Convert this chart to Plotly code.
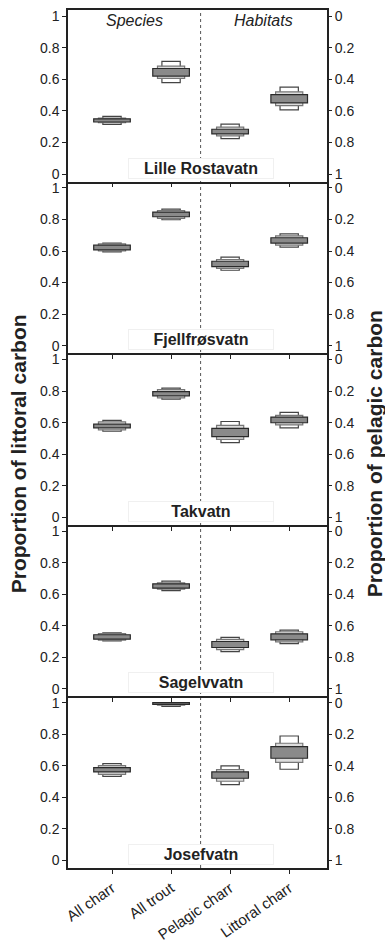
import plotly.graph_objects as go

categories = ["All charr", "All trout", "Pelagic charr", "Littoral charr"]
lakes = ["Lille Rostavatn", "Fjellfrøsvatn", "Takvatn", "Sagelvvatn", "Josefvatn"]

# credibility intervals (proportion of littoral carbon), per lake, per category
lo95 = [[0.315, 0.580, 0.225, 0.407],
        [0.594, 0.798, 0.478, 0.624],
        [0.545, 0.749, 0.473, 0.567],
        [0.304, 0.623, 0.236, 0.287],
        [0.533, 0.976, 0.480, 0.578]]
hi95 = [[0.365, 0.714, 0.316, 0.551],
        [0.650, 0.866, 0.561, 0.709],
        [0.614, 0.819, 0.607, 0.665],
        [0.355, 0.683, 0.326, 0.372],
        [0.614, 1.000, 0.599, 0.789]]
lo75 = [[0.325, 0.606, 0.242, 0.434],
        [0.600, 0.807, 0.490, 0.637],
        [0.554, 0.757, 0.494, 0.586],
        [0.309, 0.632, 0.249, 0.298],
        [0.546, 0.984, 0.502, 0.622]]
hi75 = [[0.355, 0.684, 0.297, 0.521],
        [0.645, 0.856, 0.546, 0.696],
        [0.605, 0.809, 0.582, 0.646],
        [0.350, 0.672, 0.313, 0.362],
        [0.601, 1.000, 0.576, 0.743]]
lo50 = [[0.330, 0.621, 0.254, 0.451],
        [0.607, 0.817, 0.501, 0.650],
        [0.567, 0.770, 0.511, 0.599],
        [0.315, 0.638, 0.262, 0.311],
        [0.561, 0.990, 0.521, 0.648]]
hi50 = [[0.350, 0.669, 0.284, 0.504],
        [0.637, 0.847, 0.535, 0.684],
        [0.590, 0.796, 0.563, 0.635],
        [0.343, 0.666, 0.300, 0.349],
        [0.588, 1.000, 0.561, 0.722]]

left_ticks = [0, 0.2, 0.4, 0.6, 0.8, 1]
left_ticktext = ["0", "0.2", "0.4", "0.6", "0.8", "1"]
group_titles = ["Species", "Habitats"]

FONT = "Liberation Sans, Arial, sans-serif"
INK = "#222"
YR = [-0.048, 1.04]
XR = [-0.745, 3.64]
n = len(lakes)

fig = go.Figure()
layers = [(lo95, hi95, 0.31, "white", "#444"),
          (lo75, hi75, 0.46, "#dcdcdc", "#777"),
          (lo50, hi50, 0.62, "#8a8a8a", "#2a2a2a")]

layout = dict(
    width=385, height=946,
    margin=dict(l=68, r=58, t=10, b=78, autoexpand=False),
    paper_bgcolor="white", plot_bgcolor="white",
    showlegend=False, barmode="overlay",
    font=dict(family=FONT, size=14, color=INK),
    annotations=[], shapes=[],
)
tickfont = dict(size=14, family=FONT, color=INK)

for k in range(n):
    ix = k + 1
    xa = "x" if ix == 1 else f"x{ix}"
    ya = "y" if ix == 1 else f"y{ix}"
    ra = f"y{n + ix}"
    for lo, hi, w, fill, edge in layers:
        fig.add_trace(go.Bar(
            x=categories,
            y=[h - l for l, h in zip(lo[k], hi[k])],
            base=lo[k], width=w,
            marker=dict(color=fill, line=dict(color=edge, width=1.2)),
            xaxis=xa, yaxis=ya, hoverinfo="skip"))
    # invisible trace so the right-hand (pelagic) axis is drawn
    fig.add_trace(go.Scatter(
        x=categories, y=[1 - h for h in hi95[k]], mode="markers",
        marker=dict(opacity=0, size=1), xaxis=xa, yaxis=ra, hoverinfo="skip"))
    top = 1 - k / n
    bot = 1 - (k + 1) / n
    layout[f"xaxis{ix}"] = dict(
        domain=[0, 1], anchor=ya, range=XR, type="category",
        categoryorder="array", categoryarray=categories,
        showline=True, linecolor=INK, linewidth=1.5, mirror=(k == 0),
        ticks="outside", ticklen=4, tickwidth=1, tickcolor=INK,
        showticklabels=(k == n - 1), tickangle=-35, automargin=False,
        tickfont=dict(size=15, family=FONT, color=INK),
        showgrid=False, zeroline=False,
        **({} if ix == 1 else {"matches": "x"}))
    layout[f"yaxis{ix}"] = dict(
        domain=[bot, top], anchor=xa, range=YR, automargin=False,
        tickvals=left_ticks, ticktext=left_ticktext,
        showline=True, linecolor=INK, linewidth=1.5, mirror=True,
        ticks="outside", ticklen=4, tickwidth=1, tickcolor=INK,
        tickfont=tickfont, showgrid=False, zeroline=False)
    layout[f"yaxis{n + ix}"] = dict(
        overlaying=ya, side="right", anchor=xa, automargin=False,
        range=[1 - YR[0], 1 - YR[1]],
        tickvals=left_ticks, ticktext=left_ticktext,
        showline=False, ticks="outside", ticklen=4, tickwidth=1, tickcolor=INK,
        tickfont=tickfont, showgrid=False, zeroline=False)
    layout["annotations"].append(dict(
        text=f"<b>{lakes[k]}</b>", xref=xa, yref=f"{ya} domain",
        x=(len(categories) - 1) / 2, y=0.0, xanchor="center", yanchor="bottom",
        yshift=3, showarrow=False, font=dict(size=16, family=FONT, color=INK),
        bgcolor="white", bordercolor="#f0f0f0", borderwidth=1, borderpad=1,
        width=142))

split = (len(categories) - 1) / 2
layout["annotations"].append(dict(
    text=f"<i>{group_titles[0]}</i>", xref="x", yref="y",
    x=(XR[0] + split) / 2, y=0.975, showarrow=False,
    font=dict(size=16, family=FONT, color=INK)))
layout["annotations"].append(dict(
    text=f"<i>{group_titles[1]}</i>", xref="x", yref="y",
    x=(XR[1] + split) / 2, y=0.975, showarrow=False,
    font=dict(size=16, family=FONT, color=INK)))

layout["annotations"].append(dict(
    text="<b>Proportion of littoral carbon</b>", xref="paper", yref="paper",
    x=-0.192, y=0.4825, textangle=-90, showarrow=False, xanchor="center", yanchor="middle",
    font=dict(size=21, family=FONT, color=INK)))
layout["annotations"].append(dict(
    text="<b>Proportion of pelagic carbon</b>", xref="paper", yref="paper",
    x=1.182, y=0.4825, textangle=-90, showarrow=False, xanchor="center", yanchor="middle",
    font=dict(size=21, family=FONT, color=INK)))

layout["shapes"].append(dict(
    type="line", xref="x", yref="paper", x0=split, x1=split, y0=0, y1=1,
    line=dict(color="#555", width=1, dash="dot"), layer="below"))

fig.update_layout(**layout)
fig.write_html("out.html")
